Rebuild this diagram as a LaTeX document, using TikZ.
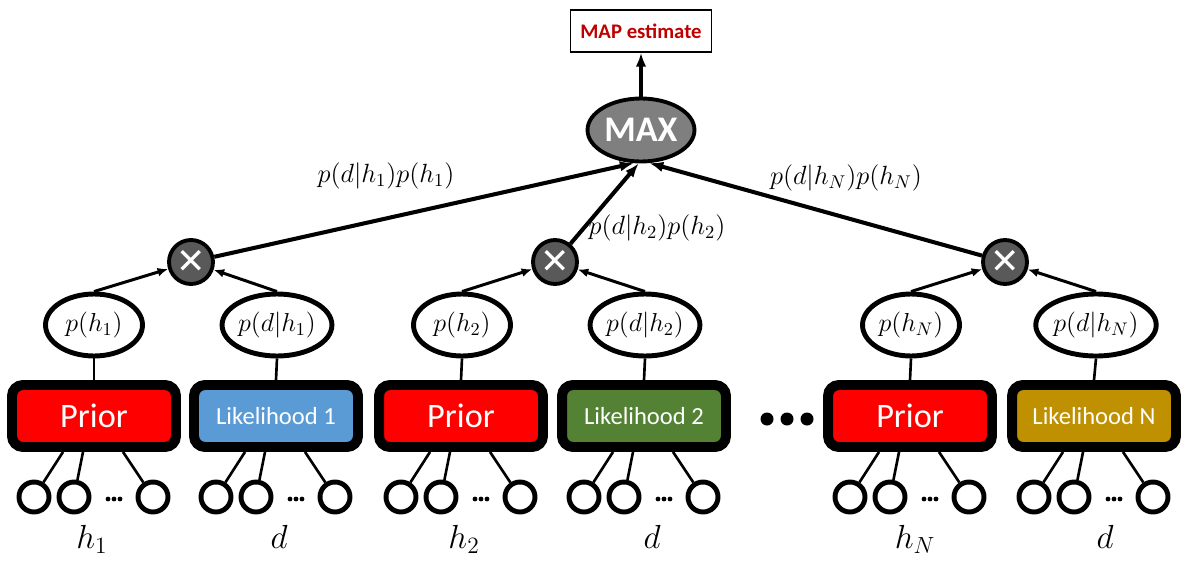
\RequirePackage{fix-cm}
\documentclass[tikz,border=0pt]{standalone}
\usepackage{fontspec}
\newfontfamily\carl{Carlito}
\newfontfamily\dejavu{DejaVu Sans}
\usetikzlibrary{arrows.meta,calc,shapes.geometric}
\definecolor{priorred}{RGB}{255,0,0}
\definecolor{likone}{RGB}{91,155,213}
\definecolor{liktwo}{RGB}{84,130,53}
\definecolor{likn}{RGB}{191,144,0}
\definecolor{mapred}{RGB}{192,0,0}
\definecolor{maxgray}{RGB}{127,127,127}
\definecolor{multgray}{RGB}{89,89,89}
\begin{document}
\begin{tikzpicture}[x=0.02cm,y=-0.02cm,
  box/.style={draw=black,line width=5.67pt,rounded corners=0.22cm,minimum width=3.28cm,minimum height=1.24cm,inner sep=0pt,text=white},
  priorbox/.style={box,fill=priorred,font=\carl\fontsize{19.5}{22}\selectfont},
  likbox/.style={box,font=\carl\fontsize{14}{16}\selectfont},
  prob/.style={ellipse,draw=black,line width=2.8pt,fill=white,minimum width=1.94cm,minimum height=1.24cm,inner sep=0pt,font=\fontsize{14.8}{17}\selectfont},
  mult/.style={circle,draw=black,line width=2.2pt,fill=multgray,minimum size=0.88cm,inner sep=0pt,text=white,font=\dejavu\bfseries\fontsize{20}{20}\selectfont},
  leaf/.style={circle,draw=black,line width=2.8pt,fill=white,minimum size=0.6cm,inner sep=0pt},
  conn/.style={line width=1.5pt},
  arr/.style={line width=1.7pt,-{Latex[length=6pt,width=5pt]}},
  bigarr/.style={line width=2.3pt,-{Latex[length=8pt,width=6pt]}},
  lbl/.style={font=\fontsize{15}{18}\selectfont},
  var/.style={font=\fontsize{19}{22}\selectfont,anchor=base}
]
\useasboundingbox (0,0) rectangle (1183,561);

% top
\node[draw=black,line width=0.7pt,fill=white,minimum width=2.82cm,minimum height=0.84cm,inner sep=0pt,text=mapred,font=\carl\bfseries\fontsize{11.8}{14}\selectfont] (map) at (641,31) {MAP estimate};
\node[ellipse,draw=black,line width=2.2pt,fill=maxgray,minimum width=2.14cm,minimum height=1.26cm,inner sep=0pt,text=white,font=\carl\bfseries\fontsize{20.5}{22}\selectfont] (max) at (641,130) {MAX};
\draw[bigarr] (max.north) -- (map.south);

% multiply nodes
\node[mult] (x1) at (191,262) {✕};
\node[mult] (x2) at (555,262) {✕};
\node[mult] (xN) at (1005,262) {✕};

% boxes
\node[priorbox] (p1) at (94,416) {Prior};
\node[likbox,fill=likone] (l1) at (276,416) {Likelihood 1};
\node[priorbox] (p2) at (461,416) {Prior};
\node[likbox,fill=liktwo] (l2) at (644,416) {Likelihood 2};
\node[priorbox] (pN) at (910,416) {Prior};
\node[likbox,fill=likn] (lN) at (1094,416) {Likelihood N};

% probability ellipses
\node[prob] (e1) at (94,325) {$p(h_1)$};
\node[prob] (f1) at (277,325) {$p(d|h_1)$};
\node[prob] (e2) at (462,325) {$p(h_2)$};
\node[prob] (f2) at (645,325) {$p(d|h_2)$};
\node[prob] (eN) at (911,325) {$p(h_N)$};
\node[prob] (fN) at (1096,325) {$p(d|h_N)$};

\foreach \e/\b in {e1/p1,f1/l1,e2/p2,f2/l2,eN/pN,fN/lN}{
  \draw[conn] (\e.south) -- (\b.north);
}
\foreach \e/\x in {e1/x1,f1/x1,e2/x2,f2/x2,eN/xN,fN/xN}{
  \draw[arr] (\e.north) -- (\x);
}
\draw[bigarr] (x1) -- (max.258);
\draw[bigarr] (x2) -- (max.266);
\draw[bigarr] (xN) -- (max.284);

\node[lbl] (t1) at (386,176) {$p(d|h_1)p(h_1)$};
\node[lbl] (t2) at (657,228) {$p(d|h_2)p(h_2)$};
\node[lbl] (tN) at (846,178) {$p(d|h_N)p(h_N)$};

% leaves
\foreach \b in {p1,l1,p2,l2,pN,lN}{
  \node[leaf] (\b a) at ($(\b)+(-60,81)$) {};
  \node[leaf] (\b b) at ($(\b)+(-20,81)$) {};
  \node[leaf] (\b c) at ($(\b)+(59,81)$) {};
  \draw[conn] ($(\b.south)+(-31,0)$) -- (\b a);
  \draw[conn] ($(\b.south)+(-11,0)$) -- (\b b);
  \draw[conn] ($(\b.south)+(29,0)$) -- (\b c);
  \foreach \d in {14,20,26}{
    \fill ($(\b)+(\d,83)$) circle[radius=2.4];
  }
}

% big dots
\foreach \d in {767,787,807}{
  \fill (\d,419) circle[radius=6.5];
}

% variable labels
\node[var] (v1) at (92,548) {$h_1$};
\node[var] (v2) at (279,548) {$d$};
\node[var] (v3) at (464,548) {$h_2$};
\node[var] (v4) at (652,548) {$d$};
\node[var] (v5) at (915,548) {$h_N$};
\node[var] (v6) at (1105,548) {$d$};
\end{tikzpicture}
\end{document}
